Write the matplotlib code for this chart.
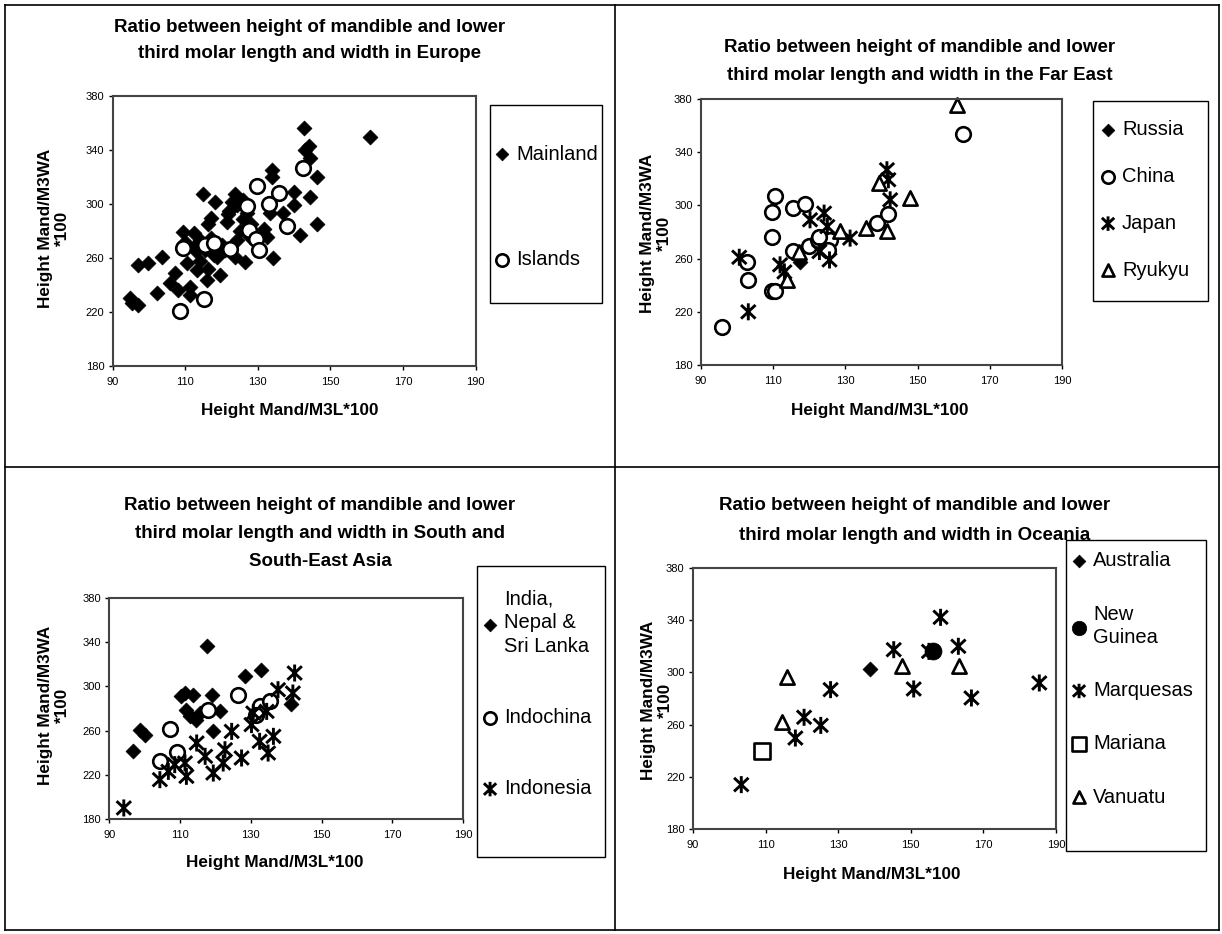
import matplotlib.pyplot as plt
from matplotlib.path import Path
from matplotlib.lines import Line2D
from matplotlib.patches import Rectangle

plt.rcParams['font.family'] = ['Liberation Sans', 'DejaVu Sans']

W, H = 1222, 934

# Europe
eu_main_x = [142.6, 161, 144, 144.5, 143, 146.3, 133.9, 133.9, 115, 118.2, 123.8, 122.8, 144.5, 139.9,
             139.9, 137, 133.4, 146.3, 141.7, 134.3, 109.5, 112.3, 116.4, 121.5, 126, 131.6, 132.5, 97.1,
             99.8, 103.5, 94.8, 97.1, 95.2, 102.1, 105.8, 107.2, 108.1, 111.3, 111.3, 110.4, 113.2, 116,
             116.4, 119.6, 118.7, 114.1, 112.3, 115.5, 121, 123.8, 126.5, 124.2, 127.9, 121.9, 124.2, 127,
             113, 117, 120, 125, 128, 118, 110, 114, 122, 126, 117]
eu_main_y = [356.3, 350, 342.8, 334.4, 340, 320, 325, 320, 307.7, 301.6, 307.7, 301.6, 305.3, 309,
             299, 293, 293, 285.5, 276.9, 259.7, 279.4, 278.2, 285.5, 286.8, 289.2, 281.8, 275.7, 254.7,
             256, 260.9, 230.1, 225.1, 226.4, 233.8, 241.2, 248.6, 236.2, 232.5, 238.7, 256, 251, 243.6,
             252.2, 247.3, 260.9, 273.2, 268.3, 265.8, 265.8, 260.9, 257.2, 273.2, 275.7, 292.9, 299, 293,
             265, 275, 270, 280, 285, 262, 272, 258, 295, 303, 290]
eu_isl_x = [142.4, 129.7, 135.9, 133, 127, 138, 127.6, 129.5, 130.2, 122.4, 115.5, 117.8, 109.3, 115.2, 108.6]
eu_isl_y = [327, 313.4, 308.2, 300.3, 298.4, 283.6, 280.6, 274, 265.8, 267, 269.8, 270.8, 267.5, 229.3, 221]

# Far East
fe_rus_x = [117.4]
fe_rus_y = [257.8]
fe_chn_x = [95.8, 102.7, 102.9, 109.6, 109.6, 110.5, 109.6, 110.5, 115.6, 118.8, 115.6, 119.8, 122.5,
            125.6, 125.3, 138.7, 141.9, 162.7, 122.8]
fe_chn_y = [208.9, 257.8, 244, 276.6, 295.4, 306.7, 236, 236, 298, 301, 266, 269.8, 274,
            274, 266.6, 286.7, 293.4, 353.6, 276]
fe_jpn_x = [100.6, 103.1, 111.9, 120.2, 124.1, 125, 125.6, 122.8, 131.3, 141.5, 141.9, 142.4, 113.1]
fe_jpn_y = [261, 220, 255.3, 289.2, 294.2, 284.1, 259, 265.3, 275.4, 326.8, 319.3, 304.2, 250]
fe_ryu_x = [160.9, 113.8, 117.2, 128.5, 135.6, 139.2, 141.5, 147.9]
fe_ryu_y = [375.7, 244, 265.3, 280.4, 282.9, 316.8, 280.4, 305.5]

# South and South-East Asia
as_ind_x = [117.5, 96.6, 98.7, 100.1, 110.4, 111.4, 113.7, 118.9, 128.3, 133, 111.8, 112.7, 114.6,
            119.4, 121.3, 141.5, 115.6]
as_ind_y = [336.9, 241.2, 260.8, 256.3, 291, 294, 292.5, 292.5, 309.1, 314.5, 279, 273, 270,
            259.3, 277.4, 284.4, 275.9]
as_ich_x = [126.4, 118, 107.1, 104.3, 109, 132.6, 135.4, 131.6]
as_ich_y = [292.5, 279, 261.8, 232.2, 240.3, 282, 286.5, 274.4]
as_idn_x = [94.1, 104.3, 106.7, 111.8, 114.7, 119.4, 122.7, 117.1, 108.5, 124.6, 127.4, 130.2, 130.7,
            132.5, 134.9, 136.4, 134.5, 137.7, 142.4, 141.9, 111.4, 122.2]
as_idn_y = [190, 215.6, 223.1, 218.6, 248.8, 221.6, 242.7, 236.7, 229.2, 259.3, 235.2, 265.4, 275.9,
            250.3, 239.7, 254.8, 277.4, 297, 312.1, 294, 230.7, 230.7]

# Oceania
oc_aus_x = [138.7]
oc_aus_y = [302.6]
oc_ng_x = [156.2]
oc_ng_y = [316.1]
oc_mar_x = [103.3, 118.2, 120.6, 125.2, 127.9, 145.3, 150.8, 155, 158.2, 163.1, 166.7, 185.4]
oc_mar_y = [214, 249.7, 265.6, 259.4, 286.8, 317.4, 287.3, 316.1, 342.2, 320, 280.4, 291.9]
oc_mri_x = [109.1]
oc_mri_y = [239.5]
oc_van_x = [116, 114.5, 147.6, 163.3]
oc_van_y = [296.5, 262, 304.6, 305.2]

x_ticks = [90, 110, 130, 150, 170, 190]
y_ticks = [180, 220, 260, 300, 340, 380]

# excel style asterisk: vertical bar plus an X
star = Path([(0, -1), (0, 1), (-0.85, -0.8), (0.85, 0.8), (-0.85, 0.8), (0.85, -0.8)],
            [Path.MOVETO, Path.LINETO, Path.MOVETO, Path.LINETO, Path.MOVETO, Path.LINETO])

STY = {
    'diamond': dict(marker='D', s=58, facecolors='black', edgecolors='black', linewidths=0.5),
    'circle': dict(marker='o', s=110, facecolors='white', edgecolors='black', linewidths=1.9),
    'star': dict(marker=star, s=150, facecolors='none', edgecolors='black', linewidths=2.1),
    'triangle': dict(marker='^', s=105, facecolors='white', edgecolors='black', linewidths=1.9),
    'square': dict(marker='s', s=125, facecolors='white', edgecolors='black', linewidths=1.9),
    'dot': dict(marker='o', s=150, facecolors='black', edgecolors='black', linewidths=0.5),
}


def px(x0, y0, x1, y1):
    return [x0 / W, 1 - y1 / H, (x1 - x0) / W, (y1 - y0) / H]


fig = plt.figure(figsize=(W / 100, H / 100), dpi=100)

# panel frames
for x in [5, 615, 1219]:
    fig.add_artist(Line2D([x / W, x / W], [1 - 5 / H, 1 - 930 / H], color='black', lw=1.2))
for y in [5, 467, 930]:
    fig.add_artist(Line2D([5 / W, 1219 / W], [1 - y / H, 1 - y / H], color='black', lw=1.2))

panels = [
    dict(ax=(112.7, 96, 475.5, 366),
         title=['Ratio between height of mandible and lower', 'third molar length and width in Europe'],
         tx=310, ty=[27, 54], xl=(290, 410), yl=(54, 228),
         series=[(eu_main_x, eu_main_y, 'diamond', 'Mainland'), (eu_isl_x, eu_isl_y, 'circle', 'Islands')],
         box=(490, 105, 602, 303), lx=494, lyc=207, ls=4.3),
    dict(ax=(701, 99, 1062, 365),
         title=['Ratio between height of mandible and lower', 'third molar length and width in the Far East'],
         tx=920, ty=[48, 75], xl=(880, 410), yl=(656, 233),
         series=[(fe_rus_x, fe_rus_y, 'diamond', 'Russia'), (fe_chn_x, fe_chn_y, 'circle', 'China'),
                 (fe_jpn_x, fe_jpn_y, 'star', 'Japan'), (fe_ryu_x, fe_ryu_y, 'triangle', 'Ryukyu')],
         box=(1093, 101, 1208, 301), lx=1100, lyc=200, ls=1.38),
    dict(ax=(109.3, 598, 463, 819),
         title=['Ratio between height of mandible and lower', 'third molar length and width in South and',
                'South-East Asia'],
         tx=320, ty=[505, 533, 562], xl=(275, 863), yl=(54, 705),
         series=[(as_ind_x, as_ind_y, 'diamond', 'India,\nNepal &\nSri Lanka'),
                 (as_ich_x, as_ich_y, 'circle', 'Indochina'), (as_idn_x, as_idn_y, 'star', 'Indonesia')],
         box=(477, 566, 605, 857), lx=482, lyc=694, ls=2.6),
    dict(ax=(693, 568, 1056, 829),
         title=['Ratio between height of mandible and lower', 'third molar length and width in Oceania'],
         tx=915, ty=[505, 535], xl=(872, 875), yl=(657, 700),
         series=[(oc_aus_x, oc_aus_y, 'diamond', 'Australia'), (oc_ng_x, oc_ng_y, 'dot', 'New\nGuinea'),
                 (oc_mar_x, oc_mar_y, 'star', 'Marquesas'), (oc_mri_x, oc_mri_y, 'square', 'Mariana'),
                 (oc_van_x, oc_van_y, 'triangle', 'Vanuatu')],
         box=(1066, 540, 1206, 851), lx=1071, lyc=679, ls=1.7),
]

for p in panels:
    ax = fig.add_axes(px(*p['ax']))
    handles = []
    for xs, ys, kind, label in p['series']:
        h = ax.scatter(xs, ys, label=label, clip_on=False, **STY[kind])
        handles.append(h)
    ax.set_xlim(90, 190)
    ax.set_ylim(180, 380)
    ax.set_xticks(x_ticks)
    ax.set_yticks(y_ticks)
    ax.tick_params(direction='out', length=3, width=1, labelsize=8)
    ax.tick_params(axis='x', pad=5)
    ax.tick_params(axis='y', pad=3)
    for sp in ax.spines.values():
        sp.set_color('#444444')
        sp.set_linewidth(1.5)

    for line, y in zip(p['title'], p['ty']):
        fig.text(p['tx'] / W, 1 - y / H, line, ha='center', va='center',
                 fontsize=13.5, fontweight='bold')
    fig.text(p['xl'][0] / W, 1 - p['xl'][1] / H, 'Height Mand/M3L*100', ha='center', va='center',
             fontsize=12.3, fontweight='bold')
    fig.text(p['yl'][0] / W, 1 - p['yl'][1] / H, 'Height Mand/M3WA\n*100', ha='center', va='center',
             rotation=90, multialignment='center', fontsize=12.3, fontweight='bold', linespacing=1.15)

    # legend box
    bx0, by0, bx1, by1 = p['box']
    fig.add_artist(Rectangle((bx0 / W, 1 - by1 / H), (bx1 - bx0) / W, (by1 - by0) / H,
                             transform=fig.transFigure, facecolor='white', edgecolor='black',
                             lw=1.0, zorder=4))
    leg = fig.legend(handles=handles, loc='center left', bbox_to_anchor=(p['lx'] / W, 1 - p['lyc'] / H),
                     bbox_transform=fig.transFigure, frameon=False, fontsize=14.5, scatterpoints=1,
                     markerscale=0.85, handlelength=0.8, handletextpad=0.3, borderpad=0,
                     borderaxespad=0, labelspacing=p['ls'])
    leg.set_zorder(5)
    for t in leg.get_texts():
        t.set_linespacing(1.3)

fig.savefig('out.png', dpi=100)
